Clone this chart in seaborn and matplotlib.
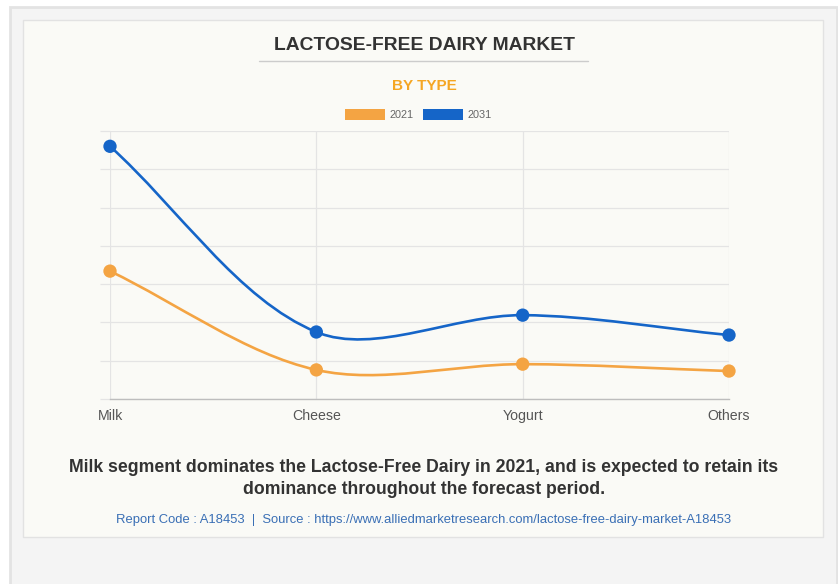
import numpy as np
import pandas as pd
import matplotlib
matplotlib.use('Agg')
import matplotlib.pyplot as plt
from matplotlib.path import Path
from matplotlib.patches import PathPatch, Rectangle
import seaborn as sns

# chart data
types = ['Milk', 'Cheese', 'Yogurt', 'Others']
years = ['2021', '2031']
values_2021 = [3.34, 0.76, 0.91, 0.73]
values_2031 = [6.60, 1.75, 2.19, 1.67]
colors = {'2021': '#F4A443', '2031': '#1565C8'}

df = pd.DataFrame({
    'type': types * 2,
    'pos': list(range(len(types))) * 2,
    'value': values_2021 + values_2031,
    'year': ['2021'] * 4 + ['2031'] * 4,
})

sns.set_theme(style='white')
plt.rcParams['font.family'] = ['Liberation Sans', 'DejaVu Sans']

fig = plt.figure(figsize=(8.38, 5.84), dpi=100)
fig.patch.set_facecolor('white')

W, H = 838, 584
def box(x0, y0, x1, y1, fc, ec, lw=1.0, z=-10):
    fig.patches.append(Rectangle((x0 / W, 1 - y1 / H), (x1 - x0) / W, (y1 - y0) / H,
                                 transform=fig.transFigure, facecolor=fc,
                                 edgecolor=ec, linewidth=lw, zorder=z))

# outer panel and inner card
box(10, 7, 837, 590, '#f4f4f4', '#e3e3e3', 2.0, -20)
box(23, 20, 823, 537, '#fafaf6', '#e2e2e2', 1.0, -15)

ax = fig.add_axes([110 / W, 185 / H, 619 / W, 268 / H])
ax.set_facecolor('none')

# smooth lines (Chart.js style bezier) computed in pixel space
sx, sy = 619 / 3, 268 / 7
def spline_path(vals, t=0.33):
    pts = np.array([[i * sx, v * sy] for i, v in enumerate(vals)])
    n = len(pts)
    cps = []
    for i in range(n):
        prev = pts[max(i - 1, 0)]
        cur = pts[i]
        nxt = pts[min(i + 1, n - 1)]
        d01 = np.hypot(*(cur - prev))
        d12 = np.hypot(*(nxt - cur))
        tot = d01 + d12 if d01 + d12 else 1
        fa, fb = t * d01 / tot, t * d12 / tot
        cps.append((cur - fa * (nxt - prev), cur + fb * (nxt - prev)))
    verts = [pts[0]]
    codes = [Path.MOVETO]
    for i in range(n - 1):
        verts += [cps[i][1], cps[i + 1][0], pts[i + 1]]
        codes += [Path.CURVE4] * 3
    verts = np.array(verts) / [sx, sy]
    return Path(verts, codes)

for yr, vals in zip(years, [values_2021, values_2031]):
    ax.add_patch(PathPatch(spline_path(vals), facecolor='none', edgecolor=colors[yr],
                           linewidth=1.9, zorder=3, clip_on=False))

sns.scatterplot(data=df, x='pos', y='value', hue='year', palette=colors, s=92,
                edgecolor='none', legend=False, ax=ax, zorder=4, clip_on=False)

ax.set_xlim(0, 3)
ax.set_ylim(0, 7)
ax.set_xticks(range(len(types)))
ax.set_xticklabels(types, fontsize=10.2, color='#555555')
ax.set_yticks(range(8))
ax.set_yticklabels([])
ax.grid(True, color='#e4e4e4', linewidth=0.9)
ax.tick_params(axis='y', length=7, color='#e4e4e4', width=0.9, left=True)
ax.tick_params(axis='x', length=0, pad=7)
for side in ['top', 'right', 'left']:
    ax.spines[side].set_visible(False)
ax.spines['bottom'].set_color('#bdbdbd')
ax.spines['bottom'].set_linewidth(1.0)
ax.set_xlabel('')
ax.set_ylabel('')

# titles
fig.text(424 / W, 1 - 45 / H, 'LACTOSE-FREE DAIRY MARKET', ha='center', va='center',
         fontsize=13.9, fontweight='bold', color='#333333')
fig.add_artist(plt.Line2D([259 / W, 588 / W], [1 - 61 / H, 1 - 61 / H],
                          color='#cccccc', linewidth=1.0))
fig.text(424 / W, 1 - 86 / H, 'BY TYPE', ha='center', va='center',
         fontsize=11, fontweight='bold', color='#F5A623')

# legend
for x0, yr in [(345, '2021'), (423, '2031')]:
    box(x0, 109, x0 + 40, 120, colors[yr], 'none', 0, 5)
    fig.text((x0 + 44) / W, 1 - 115 / H, yr, ha='left', va='center',
             fontsize=7.8, color='#666666')

# caption
fig.text(424 / W, 1 - 468 / H,
         'Milk segment dominates the Lactose-Free Dairy in 2021, and is expected to retain its',
         ha='center', va='center', fontsize=12.7, fontweight='bold', color='#333333')
fig.text(424 / W, 1 - 490 / H, 'dominance throughout the forecast period.',
         ha='center', va='center', fontsize=12.7, fontweight='bold', color='#333333')
fig.text(424 / W, 1 - 520 / H,
         'Report Code : A18453  |  Source : https://www.alliedmarketresearch.com/lactose-free-dairy-market-A18453',
         ha='center', va='center', fontsize=9.4, color='#3a6fb5')

plt.savefig('out.png', dpi=100)
